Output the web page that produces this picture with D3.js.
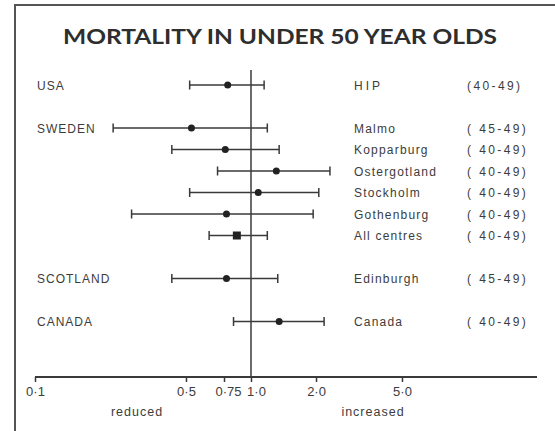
<!DOCTYPE html>
<html><head><meta charset="utf-8">
<script src="https://cdn.jsdelivr.net/npm/d3@7"></script>
<style>body{margin:0;background:#fff}svg{display:block}</style>
</head><body><svg id="c" width="555" height="431"></svg>
<script>
const title = "MORTALITY IN UNDER 50 YEAR OLDS";
const groups = ["USA","SWEDEN","SWEDEN","SWEDEN","SWEDEN","SWEDEN","SWEDEN","SCOTLAND","CANADA"];
const studies = ["HIP","Malmo","Kopparburg","Ostergotland","Stockholm","Gothenburg","All centres","Edinburgh","Canada"];
const ages = ["(40-49)","( 45-49)","( 40-49)","( 40-49)","( 40-49)","( 40-49)","( 40-49)","( 45-49)","( 40-49)"];
const estimate = [0.78,0.53,0.76,1.31,1.08,0.77,0.86,0.77,1.35];
const lower    = [0.52,0.23,0.43,0.70,0.52,0.28,0.64,0.43,0.83];
const upper    = [1.15,1.19,1.35,2.32,2.06,1.94,1.19,1.33,2.18];
const pooled   = [false,false,false,false,false,false,true,false,false];
const tickValues = [0.1,0.5,0.75,1.0,2.0,5.0];
const tickLabels = ["0·1","0·5","0·75","1·0","2·0","5·0"];
const axisLabels = ["reduced","increased"];

const svg = d3.select("#c");
const ink = "#3a3a3a";
const font = "'Liberation Sans', Arial, sans-serif";

// frame (top and left edges)
svg.append("path").attr("d","M15,431V5H555").attr("fill","none").attr("stroke","#555").attr("stroke-width",2);

svg.append("text").attr("x",280).attr("y",44).attr("text-anchor","middle")
  .attr("font-family","Lato, 'Open Sans', sans-serif").attr("font-weight","bold")
  .attr("font-size",21).attr("fill","#2e2e2e")
  .attr("textLength",434).attr("lengthAdjust","spacingAndGlyphs").text(title);

// slots: gap row where group changes
const slots = [];
let s = 0;
groups.forEach((g,i)=>{ if(i>0 && g!==groups[i-1]) s+=2; else if(i>0) s+=1; slots.push(s); });
const y = d3.scaleLinear().domain([0,d3.max(slots)]).range([85,321.5]);
const x = d3.scaleLog().domain([0.1,1]).range([35,251]);
const axisY = 377;

// axis line
svg.append("line").attr("x1",x(0.1)).attr("x2",537).attr("y1",axisY).attr("y2",axisY)
  .attr("stroke",ink).attr("stroke-width",2);
const axis = d3.axisBottom(x).tickValues(tickValues).tickSize(5).tickFormat((d,i)=>tickLabels[i]);
const ag = svg.append("g").attr("transform",`translate(0,${axisY})`).call(axis);
ag.select(".domain").remove();
ag.selectAll(".tick line").attr("stroke",ink).attr("stroke-width",1.5);
ag.selectAll(".tick text").attr("fill","#3c3c3c").attr("font-family",font)
  .attr("font-size",13).attr("dy","0.85em");
ag.selectAll(".tick").filter(d=>d===0.75).select("text").attr("dx",4);
ag.selectAll(".tick").filter(d=>d===1.0).select("text").attr("dx",5);

svg.append("text").attr("x",137).attr("y",416).attr("text-anchor","middle").attr("fill","#3c3c3c")
  .attr("font-family",font).attr("font-size",12.5).attr("letter-spacing",1).text(axisLabels[0]);
svg.append("text").attr("x",373).attr("y",416).attr("text-anchor","middle").attr("fill","#3c3c3c")
  .attr("font-family",font).attr("font-size",12.5).attr("letter-spacing",1).text(axisLabels[1]);

// reference line at 1
svg.append("line").attr("x1",x(1)).attr("x2",x(1)).attr("y1",70).attr("y2",axisY)
  .attr("stroke",ink).attr("stroke-width",1.5);

const rows = svg.append("g").selectAll("g").data(studies).join("g")
  .attr("transform",(d,i)=>`translate(0,${y(slots[i])})`);
rows.append("line").attr("x1",(d,i)=>x(lower[i])).attr("x2",(d,i)=>x(upper[i]))
  .attr("stroke",ink).attr("stroke-width",1.3);
rows.append("line").attr("x1",(d,i)=>x(lower[i])).attr("x2",(d,i)=>x(lower[i])).attr("y1",-4.5).attr("y2",4.5)
  .attr("stroke",ink).attr("stroke-width",1.5);
rows.append("line").attr("x1",(d,i)=>x(upper[i])).attr("x2",(d,i)=>x(upper[i])).attr("y1",-4.5).attr("y2",4.5)
  .attr("stroke",ink).attr("stroke-width",1.5);
rows.each(function(d,i){
  const g = d3.select(this);
  if(pooled[i]) g.append("rect").attr("x",x(estimate[i])-4).attr("y",-4).attr("width",8).attr("height",8).attr("fill","#222");
  else g.append("circle").attr("cx",x(estimate[i])).attr("r",3.5).attr("fill","#222");
});
rows.append("text").attr("x",354).attr("y",4.5).attr("font-family",font).attr("font-size",12)
  .attr("letter-spacing",(d,i)=>i===0?3:1.2).attr("fill","#3c3c3c").text(d=>d);
rows.append("text").attr("x",467).attr("y",4.5).attr("font-family",font).attr("font-size",12)
  .attr("letter-spacing",2.4).attr("fill","#3c3c3c").text((d,i)=>ages[i]);
// group labels at first row of each group
rows.filter((d,i)=>i===0 || groups[i]!==groups[i-1]).append("text")
  .attr("x",37).attr("y",4.5).attr("font-family",font).attr("font-size",12).attr("letter-spacing",1)
  .attr("fill","#3c3c3c").text(d=>groups[studies.indexOf(d)]);
</script></body></html>
